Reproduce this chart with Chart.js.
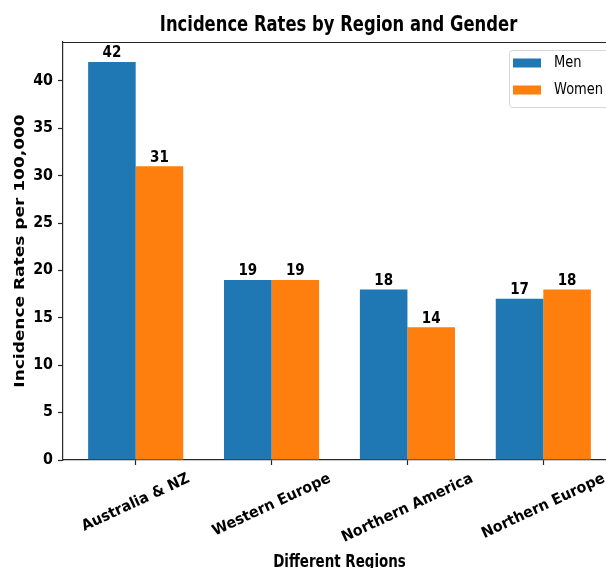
<!DOCTYPE html>
<html>
<head>
<meta charset="utf-8">
<script src="https://cdn.jsdelivr.net/npm/chart.js@4.4.1/dist/chart.umd.min.js"></script>
<style>
  html, body { margin: 0; padding: 0; background: #fff; overflow: hidden; width: 606px; height: 568px; }
  #wrap { position: relative; width: 620px; height: 568px; }
</style>
</head>
<body>
<div id="wrap"><canvas id="chart"></canvas></div>
<script>
// ---- data ----
const regions = ['Australia & NZ', 'Western Europe', 'Northern America', 'Northern Europe'];
const men = [42, 19, 18, 17];
const women = [31, 19, 14, 18];
const yTicks = [0, 5, 10, 15, 20, 25, 30, 35, 40];
const seriesNames = ['Men', 'Women'];
const seriesColors = ['#1f77b4', '#ff7f0e'];
const chartTitle = 'Incidence Rates by Region and Gender';
const xTitle = 'Different Regions';
const yTitle = 'Incidence Rates per 100,000';

const FONT = '"DejaVu Sans", "Liberation Sans", sans-serif';
const AXIS = '#262626';

function drawText(ctx, str, x, y, o) {
  ctx.save();
  ctx.font = `${o.weight || 'bold'} ${o.size}px ${FONT}`;
  ctx.fillStyle = o.color || '#000';
  ctx.textAlign = o.align || 'center';
  ctx.textBaseline = o.baseline || 'alphabetic';
  ctx.translate(x, y);
  if (o.rot) ctx.rotate(o.rot);
  ctx.scale(o.sx || 1, o.sy || 1);
  ctx.fillText(str, 0, 0);
  ctx.restore();
}

// frame, texts, value labels and legend
const decorations = {
  id: 'decorations',
  afterDraw(chart) {
    const ctx = chart.ctx;
    const a = chart.chartArea;
    const xs = chart.scales.x, ys = chart.scales.y;

    // top and right spines
    ctx.save();
    ctx.strokeStyle = AXIS;
    ctx.lineWidth = 1.2;
    ctx.beginPath();
    ctx.moveTo(a.left, a.top + 0.5);
    ctx.lineTo(a.right, a.top + 0.5);
    ctx.lineTo(a.right, a.bottom);
    ctx.stroke();
    ctx.restore();

    // title
    drawText(ctx, chartTitle, (a.left + a.right) / 2 - 1, 31, { size: 22, sx: 0.745 });

    // y tick labels
    yTicks.forEach(v => {
      drawText(ctx, String(v), a.left - 10, ys.getPixelForValue(v), { size: 15, sx: 0.95, align: 'right', baseline: 'middle' });
    });

    // rotated category labels
    const ang = 25 * Math.PI / 180;
    const size = 15, sx = 0.95;
    ctx.save();
    ctx.font = `bold ${size}px ${FONT}`;
    regions.forEach((r, i) => {
      const w = ctx.measureText(r).width * sx;
      const h = size * 1.17;
      const bh = w * Math.sin(ang) + h * Math.cos(ang);
      const cy = a.bottom + 10 + bh / 2;
      drawText(ctx, r, xs.getPixelForValue(i), cy, { size, sx, rot: -ang, baseline: 'middle' });
    });
    ctx.restore();

    // axis titles
    drawText(ctx, xTitle, (a.left + a.right) / 2, 567, { size: 17, sx: 0.79 });
    drawText(ctx, yTitle, 20, (a.top + a.bottom) / 2, { size: 17, rot: -Math.PI / 2, baseline: 'middle', sy: 0.85 });

    // value labels above bars
    chart.data.datasets.forEach((ds, di) => {
      const meta = chart.getDatasetMeta(di);
      meta.data.forEach((el, i) => {
        drawText(ctx, String(ds.data[i].y), el.x, el.y - 4.5, { size: 15, sx: 0.9 });
      });
    });

    // legend (upper right, inside the axes)
    const lx = a.right - 107, ly = a.top + 8, lw = 100, lh = 57;
    ctx.save();
    ctx.fillStyle = 'rgba(255,255,255,0.8)';
    ctx.strokeStyle = '#d6d6d6';
    ctx.lineWidth = 1;
    ctx.beginPath();
    ctx.roundRect(lx + 0.5, ly + 0.5, lw, lh, 3);
    ctx.fill();
    ctx.stroke();
    ctx.restore();
    chart.data.datasets.forEach((ds, di) => {
      const rowY = ly + 13 + di * 27;
      ctx.fillStyle = ds.backgroundColor;
      ctx.fillRect(lx + 4, rowY - 4.5, 28, 9);
      drawText(ctx, ds.label, lx + 45, rowY, { size: 15, weight: 'normal', sx: 0.87, align: 'left', baseline: 'middle' });
    });
  }
};

const toPoints = arr => arr.map((v, i) => ({ x: i, y: v }));

new Chart(document.getElementById('chart'), {
  type: 'bar',
  data: {
    datasets: [
      { label: seriesNames[0], data: toPoints(men), backgroundColor: seriesColors[0] },
      { label: seriesNames[1], data: toPoints(women), backgroundColor: seriesColors[1] }
    ]
  },
  options: {
    responsive: true,
    maintainAspectRatio: false,
    animation: false,
    devicePixelRatio: 1,
    categoryPercentage: 0.7,
    barPercentage: 1.0,
    layout: { padding: { top: 42, right: 4, left: 0, bottom: 0 } },
    plugins: { legend: { display: false }, title: { display: false }, tooltip: { enabled: false } },
    scales: {
      x: {
        type: 'linear',
        offset: false,
        min: -0.535,
        max: 3.535,
        afterBuildTicks: s => { s.ticks = regions.map((_, i) => ({ value: i })); },
        afterFit: s => { s.height = 108; },
        ticks: { display: false },
        grid: { offset: false, drawOnChartArea: false, drawTicks: true, tickLength: 5, color: AXIS, tickWidth: 1.2 },
        border: { color: AXIS, width: 1.2 }
      },
      y: {
        min: 0,
        max: 44.1,
        afterBuildTicks: s => { s.ticks = yTicks.map(v => ({ value: v })); },
        afterFit: s => { s.width = 63; },
        ticks: { display: false },
        grid: { drawOnChartArea: false, drawTicks: true, tickLength: 5, color: AXIS, tickWidth: 1.2 },
        border: { color: AXIS, width: 1.2 }
      }
    }
  },
  plugins: [decorations]
});
</script>
</body>
</html>
